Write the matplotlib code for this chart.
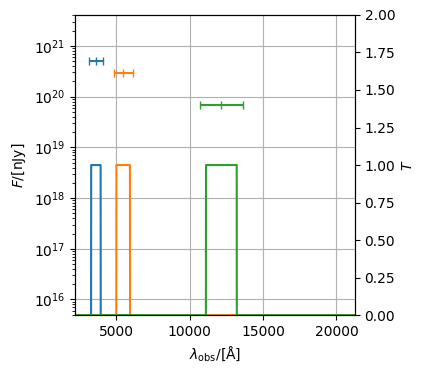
import matplotlib.pyplot as plt
import numpy as np

# ---- data ----
band_names = ['u', 'r', 'J']
band_lo = [3270, 4990, 11100]      # filter lower edge [Å]
band_hi = [3920, 5920, 13200]      # filter upper edge [Å]
phot_wave = [3610, 5480, 12150]    # effective wavelength [Å]
phot_werr = [455, 620, 1470]       # half width for x error bar
phot_flux = [5.0e20, 2.95e20, 6.8e19]  # flux [nJy]

wave = np.arange(2000, 22000, 1.0)

fig = plt.figure(figsize=(4.24, 3.73), dpi=100)
ax = fig.add_axes([0.177, 0.155, 0.660, 0.805])
ax2 = ax.twinx()

for i in range(len(band_names)):
    ax.errorbar(phot_wave[i], phot_flux[i], xerr=phot_werr[i],
                fmt='|', color=f'C{i}', capsize=3)
    T = np.where((wave >= band_lo[i]) & (wave <= band_hi[i]), 1.0, 0.0)
    ax2.plot(wave, T, color=f'C{i}')

ax.set_yscale('log')
ax.set_ylim(4.9e15, 4.1e21)
ax.set_xlim(2177, 21258)
ax.set_xticks([5000, 10000, 15000, 20000])
ax.grid(True)
ax.set_xlabel(r'$\lambda_{\rm obs}/[\mathrm{\AA}]$')
ax.set_ylabel(r'$F/[\mathrm{nJy}]$')

ax2.set_ylim(0, 2)
ax2.set_ylabel(r'$T$')

plt.savefig('out.png', dpi=100)
